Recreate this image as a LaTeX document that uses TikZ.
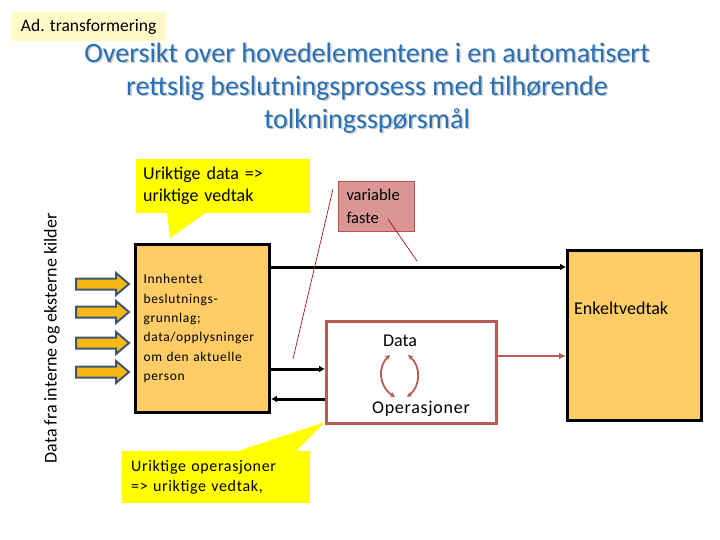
\documentclass[tikz,border=0pt]{standalone}
\usepackage{fontspec}
\setmainfont{Carlito}
\usetikzlibrary{arrows.meta,calc}
\definecolor{titleblue}{RGB}{40,112,182}
\definecolor{boxorange}{RGB}{255,204,102}
\definecolor{arrorange}{RGB}{245,184,20}
\definecolor{arrborder}{RGB}{62,86,118}
\definecolor{brownred}{RGB}{184,92,88}
\definecolor{pinkfill}{RGB}{218,150,148}
\definecolor{pinkborder}{RGB}{192,80,77}
\definecolor{leaderred}{RGB}{170,20,30}
\definecolor{callyellow}{RGB}{255,255,0}
\definecolor{labelyellow}{RGB}{255,250,200}
\tikzset{
  orangebox/.style={draw=black, fill=boxorange, line width=3pt, anchor=north west},
  callout/.style={fill=callyellow, anchor=north west, align=left, text=black},
  connline/.style={draw=black, line width=3pt, -{Latex[length=6pt,width=7pt]}},
  brownline/.style={draw=brownred, line width=2.5pt, -{Latex[length=7pt,width=7pt]}},
  cyclearc/.style={draw=brownred, line width=1.8pt, {Stealth[length=5pt,width=5pt]}-{Stealth[length=5pt,width=5pt]}},
  leader/.style={draw=leaderred, line width=0.7pt},
  fatarrow/.style={fill=arrorange, draw=arrborder, line width=2pt, line join=miter},
}
\begin{document}
\begin{tikzpicture}[x=1pt,y=-1pt]
\useasboundingbox (0,0) rectangle (720,540);

% label top left
\node[fill=labelyellow, minimum width=155pt, minimum height=29pt, anchor=north west, inner sep=0pt,
      font=\fontsize{17.5}{20}\selectfont] (adlabel) at (11,12) {Ad. transformering};

% title with shadow
\node[align=center, text=black!22, font=\fontsize{28}{33}\selectfont] (titleshadow) at (368.5,89.5)
  {Oversikt over hovedelementene i en automatisert\\rettslig beslutningsprosess med tilhørende\\tolkningsspørsmål};
\node[align=center, text=titleblue, font=\fontsize{28}{33}\selectfont] (title) at (367,88)
  {Oversikt over hovedelementene i en automatisert\\rettslig beslutningsprosess med tilhørende\\tolkningsspørsmål};

% rotated side text
\node[rotate=90, font=\fontsize{18}{21}\selectfont] (sidetext) at (52,338.5) {Data fra interne og eksterne kilder};

% fat arrows
\foreach \yy/\nm in {284/a1,312/a2,343/a3,372/a4}{
  \draw[fatarrow] (76,\yy-5.5) -- (116,\yy-5.5) -- (116,\yy-11) -- (129,\yy) -- (116,\yy+11) -- (116,\yy+5.5) -- (76,\yy+5.5) -- cycle;
}

% callout 1
\fill[callyellow] (167,212) -- (170,238) -- (207,212) -- cycle;
\node[callout, minimum width=174pt, minimum height=54pt, text width=160pt, inner xsep=7pt,
      font=\fontsize{18}{22}\selectfont] (call1) at (136,159) {Uriktige data =>\\uriktige vedtak};

% callout 2
\fill[callyellow] (235,452) -- (325,422) -- (295,452) -- cycle;
\node[callout, minimum width=188pt, minimum height=52pt, text width=170pt, inner xsep=9pt,
      font=\fontsize{16}{19.5}\selectfont\addfontfeature{LetterSpace=4}] (call2) at (122,451) {Uriktige operasjoner\\=> uriktige vedtak,};

% main orange box
\node[orangebox, minimum width=134pt, minimum height=168pt, text width=118pt, inner xsep=8pt, align=left,
      font=\fontsize{13.5}{19.3}\selectfont\addfontfeature{LetterSpace=5}] (src) at (134,243)
  {Innhentet\\beslutnings-\\grunnlag;\\data/opplysninger\\om den aktuelle\\person};

% Enkeltvedtak box
\node[orangebox, minimum width=134pt, minimum height=170pt] (enk) at (566,249) {};
\node[anchor=west, font=\fontsize{18}{21}\selectfont, inner sep=0pt] (enktxt) at (574,308) {Enkeltvedtak};

% middle box
\node[draw=brownred, fill=white, line width=2.5pt, minimum width=170pt, minimum height=102pt, anchor=north west] (mid) at (325,320) {};
\node[font=\fontsize{18}{21}\selectfont, inner sep=0pt] (data) at (400,341) {Data};
\node[font=\fontsize{18}{21}\selectfont\addfontfeature{LetterSpace=4}, inner sep=0pt] (ops) at (421,409) {Operasjoner};
\coordinate (la1) at (395,397);
\coordinate (la2) at (390,355);
\coordinate (ra1) at (408,355);
\coordinate (ra2) at (407,397);
\draw[cyclearc] (la1) .. controls (378,386) and (378,366) .. (la2);
\draw[cyclearc] (ra1) .. controls (421,366) and (421,386) .. (ra2);

% variable faste box
\node[fill=pinkfill, draw=pinkborder, line width=1pt, minimum width=74pt, minimum height=50pt, anchor=north west,
      text width=60pt, inner xsep=8pt, align=left, font=\fontsize{16.5}{23}\selectfont] (var) at (338,181) {variable\\faste};

% connectors
\coordinate (y1) at (0,267);
\coordinate (y2) at (0,369);
\coordinate (y3) at (0,399);
\coordinate (y4) at (0,356);
\draw[connline] (src.east |- y1) -- (enk.west |- y1);
\draw[connline] (src.east |- y2) -- (mid.west |- y2);
\draw[connline] (mid.west |- y3) -- (src.east |- y3);
\draw[brownline] (mid.east |- y4) -- (enk.west |- y4);

% leader lines
\coordinate (lead1a) at (333,189);
\coordinate (lead1b) at (293,359);
\coordinate (lead2a) at (388,219);
\coordinate (lead2b) at (417,261);
\draw[leader] (lead1a) -- (lead1b);
\draw[leader] (lead2a) -- (lead2b);
\end{tikzpicture}
\end{document}
